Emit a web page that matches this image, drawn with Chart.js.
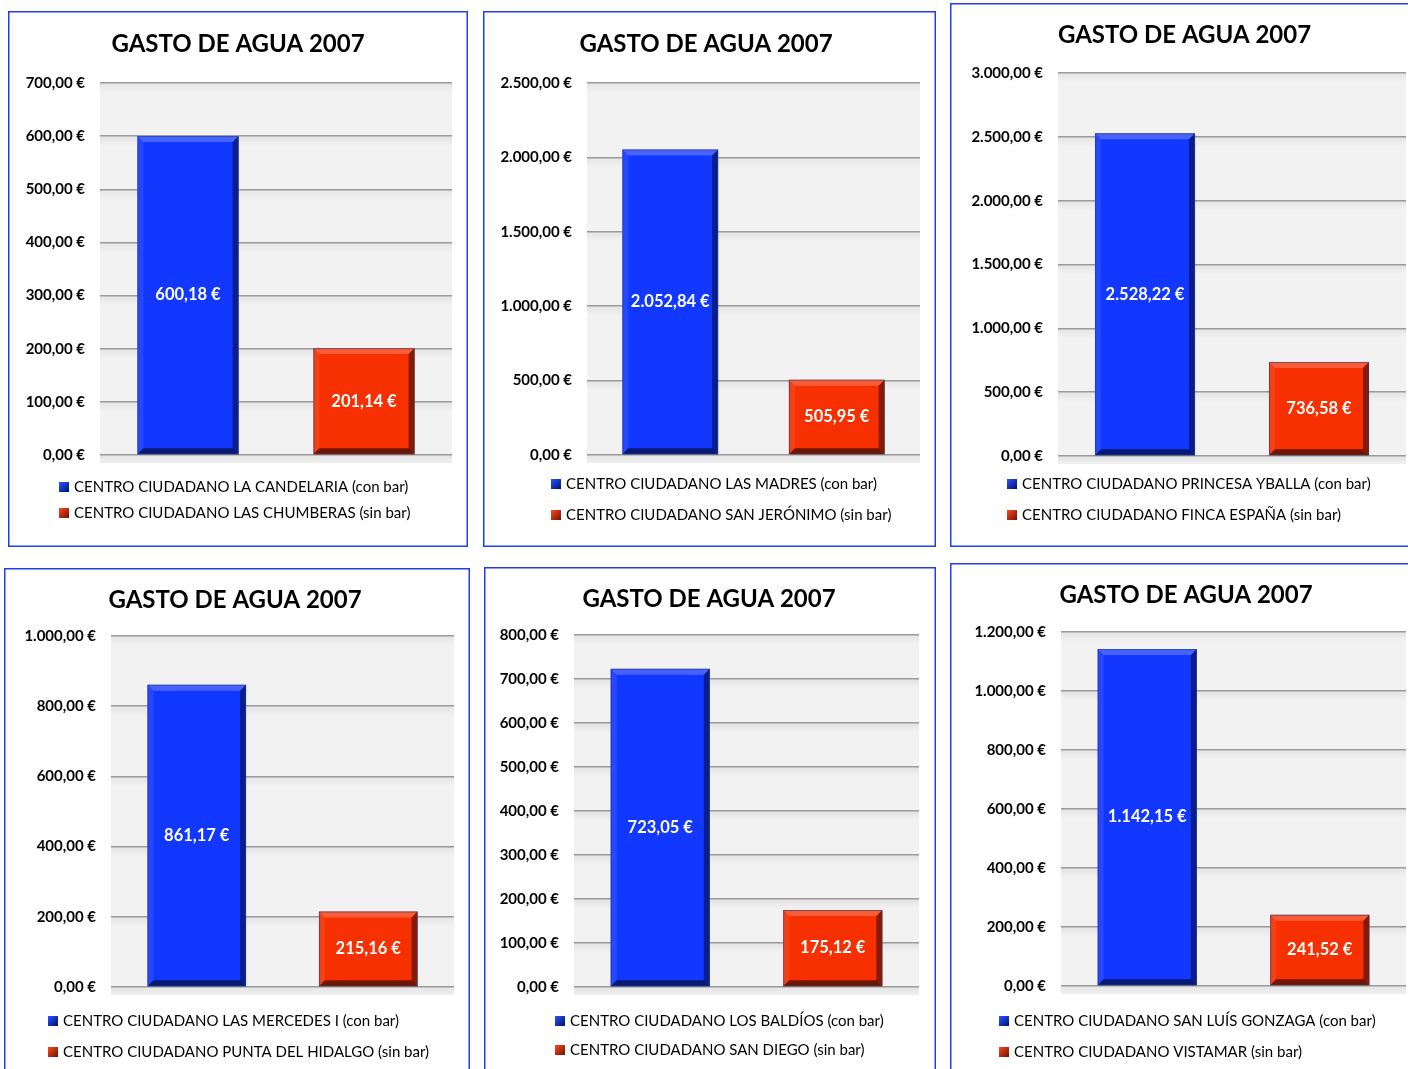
<!DOCTYPE html>
<html>
<head>
<meta charset="utf-8">
<script src="https://cdn.jsdelivr.net/npm/chart.js@4.4.1/dist/chart.umd.min.js"></script>
<style>
  html, body { margin: 0; padding: 0; background: #fff; }
  body { width: 1408px; height: 1069px; position: relative; overflow: hidden; }
  .panel { position: absolute; }
  .panel canvas { display: block; }
</style>
</head>
<body>
<script>
// ---- data ----
var chartTitle = 'GASTO DE AGUA 2007';
var conBarNames = [
  'CENTRO CIUDADANO LA CANDELARIA (con bar)',
  'CENTRO CIUDADANO LAS MADRES (con bar)',
  'CENTRO CIUDADANO PRINCESA YBALLA (con bar)',
  'CENTRO CIUDADANO LAS MERCEDES I (con bar)',
  'CENTRO CIUDADANO LOS BALDÍOS (con bar)',
  'CENTRO CIUDADANO SAN LUÍS GONZAGA (con bar)'
];
var sinBarNames = [
  'CENTRO CIUDADANO LAS CHUMBERAS (sin bar)',
  'CENTRO CIUDADANO SAN JERÓNIMO (sin bar)',
  'CENTRO CIUDADANO FINCA ESPAÑA (sin bar)',
  'CENTRO CIUDADANO PUNTA DEL HIDALGO (sin bar)',
  'CENTRO CIUDADANO SAN DIEGO (sin bar)',
  'CENTRO CIUDADANO VISTAMAR (sin bar)'
];
var conBarValues = [600.18, 2052.84, 2528.22, 861.17, 723.05, 1142.15];
var sinBarValues = [201.14, 505.95, 736.58, 215.16, 175.12, 241.52];
var axisMax = [700, 2500, 3000, 1000, 800, 1200];
var axisStep = [100, 500, 500, 200, 100, 200];

// ---- layout (page pixels) ----
// box: left, top, width, height ; area: left, top, right, bottom ; legend rows y ; legend marker x ; title centre x,y
var layouts = [
  { box: [8, 11, 460, 536],   area: [100, 83, 452, 455],   leg: [487, 513],   mx: 59,  tx: 238,  ty: 44 },
  { box: [483, 11, 453, 536], area: [587, 83, 920, 455],   leg: [484, 515],   mx: 551, tx: 710,  ty: 44 },
  { box: [950, 3, 470, 544],  area: [1058, 73, 1406, 456], leg: [484, 515],   mx: 1007, tx: 1186, ty: 35 },
  { box: [4, 568, 466, 510],  area: [111, 636, 454, 987],  leg: [1021, 1052], mx: 48,  tx: 237,  ty: 600 },
  { box: [484, 567, 452, 510],area: [574, 635, 919, 987],  leg: [1021, 1050], mx: 555, tx: 709,  ty: 599 },
  { box: [950, 563, 470, 510],area: [1061, 632, 1406, 986],leg: [1021, 1052], mx: 999, tx: 1192, ty: 595 }
];

var FONT = 'Lato, "Open Sans", sans-serif';

function euro(v) {
  var parts = v.toFixed(2).split('.');
  var intPart = parts[0].replace(/\B(?=(\d{3})+(?!\d))/g, '.');
  return intPart + ',' + parts[1] + '\u00a0€';
}

var panelFrame = {
  id: 'panelFrame',
  beforeDraw: function (chart) {
    var c = chart.ctx, a = chart.chartArea, ys = chart.scales.y;
    c.save();
    // plot background
    c.fillStyle = '#f2f2f2';
    c.fillRect(a.left, a.top, a.right - a.left, a.bottom - a.top + 8);
    // soft shadow below each gridline
    ys.ticks.forEach(function (t) {
      var py = ys.getPixelForValue(t.value);
      var g = c.createLinearGradient(0, py, 0, py + 10);
      g.addColorStop(0, 'rgba(0,0,0,0.06)');
      g.addColorStop(1, 'rgba(0,0,0,0)');
      c.fillStyle = g;
      c.fillRect(a.left, py, a.right - a.left, 10);
    });
    c.restore();
  },
  afterDraw: function (chart) {
    var c = chart.ctx;
    c.save();
    c.strokeStyle = '#1f3fe8';
    c.lineWidth = 1.5;
    c.strokeRect(0.75, 0.75, chart.width - 1.5, chart.height - 1.5);
    c.restore();
  }
};

var bevelBars = {
  id: 'bevelBars',
  afterDatasetsDraw: function (chart) {
    var c = chart.ctx;
    chart.data.datasets.forEach(function (ds, i) {
      chart.getDatasetMeta(i).data.forEach(function (bar) {
        var l = bar.x - bar.width / 2, r = bar.x + bar.width / 2, t = bar.y, b = bar.base, e = 6;
        c.save();
        // top facet
        c.fillStyle = 'rgba(255,255,255,0.22)';
        c.beginPath(); c.moveTo(l, t); c.lineTo(r, t); c.lineTo(r - e, t + e); c.lineTo(l + e, t + e); c.closePath(); c.fill();
        // left facet
        c.fillStyle = 'rgba(255,255,255,0.08)';
        c.beginPath(); c.moveTo(l, t); c.lineTo(l + e, t + e); c.lineTo(l + e, b - e); c.lineTo(l, b); c.closePath(); c.fill();
        // right facet
        c.fillStyle = 'rgba(0,0,0,0.45)';
        c.beginPath(); c.moveTo(r, t); c.lineTo(r, b); c.lineTo(r - e, b - e); c.lineTo(r - e, t + e); c.closePath(); c.fill();
        // bottom facet
        c.fillStyle = 'rgba(0,0,0,0.55)';
        c.beginPath(); c.moveTo(l, b); c.lineTo(r, b); c.lineTo(r - e, b - e); c.lineTo(l + e, b - e); c.closePath(); c.fill();
        // outline
        c.strokeStyle = 'rgba(40,60,120,0.6)';
        c.lineWidth = 1;
        c.strokeRect(l + 0.5, t + 0.5, r - l - 1, b - t - 1);
        // value label
        c.fillStyle = '#ffffff';
        c.font = 'bold 16.5px ' + FONT;
        c.textAlign = 'center';
        c.textBaseline = 'middle';
        c.fillText(euro(ds.data[0]), bar.x, (t + b) / 2);
        c.restore();
      });
    });
  }
};

var sideLegend = {
  id: 'sideLegend',
  afterDraw: function (chart) {
    var c = chart.ctx, o = chart.options.plugins.sideLegend;
    c.save();
    chart.data.datasets.forEach(function (ds, i) {
      var y = o.rows[i], x = o.x;
      var g = c.createLinearGradient(x, y - 5, x + 10, y + 5);
      g.addColorStop(0, ds.legendLight);
      g.addColorStop(1, ds.legendDark);
      c.fillStyle = g;
      c.fillRect(x, y - 5, 10, 10);
      c.fillStyle = '#000';
      c.font = '15px ' + FONT;
      c.textAlign = 'left';
      c.textBaseline = 'middle';
      c.fillText(ds.label, x + 15, y);
    });
    c.restore();
  }
};

layouts.forEach(function (L, k) {
  var bx = L.box[0], by = L.box[1], bw = L.box[2], bh = L.box[3];
  var div = document.createElement('div');
  div.className = 'panel';
  div.style.left = bx + 'px';
  div.style.top = by + 'px';
  div.style.width = bw + 'px';
  div.style.height = bh + 'px';
  var cv = document.createElement('canvas');
  cv.width = bw;
  cv.height = bh;
  cv.style.width = bw + 'px';
  cv.style.height = bh + 'px';
  div.appendChild(cv);
  document.body.appendChild(div);

  // title is centred between the left/right layout paddings;
  // keep the y axis wide enough for its labels (they get clipped to the axis box)
  var padRight = (bx + bw) - L.area[2];
  var padLeft = 2 * (L.tx - bx) - (bw - padRight);
  padLeft = Math.max(0, Math.min(padLeft, (L.area[0] - bx) - 95));
  if (axisMax[k] < 1000) padLeft = Math.max(0, Math.min(2 * (L.tx - bx) - (bw - padRight), (L.area[0] - bx) - 74));
  var axisW = (L.area[0] - bx) - padLeft;

  var titleLH = 28.8;
  var tPadTop = (L.ty - by) - titleLH / 2;
  var tPadBottom = (L.area[1] - by) - tPadTop - titleLH;

  new Chart(cv.getContext('2d'), {
    type: 'bar',
    data: {
      labels: [''],
      datasets: [
        { label: conBarNames[k], data: [conBarValues[k]], backgroundColor: '#1238ff', legendLight: '#2a55ff', legendDark: '#001070' },
        { label: sinBarNames[k], data: [sinBarValues[k]], backgroundColor: '#f63000', legendLight: '#ff4a20', legendDark: '#701000' }
      ]
    },
    options: {
      responsive: false,
      animation: false,
      devicePixelRatio: 1,
      categoryPercentage: 1,
      barPercentage: 0.575,
      layout: {
        padding: { left: padLeft, right: padRight, top: 0, bottom: (by + bh) - L.area[3] }
      },
      scales: {
        x: { display: false },
        y: {
          min: 0,
          max: axisMax[k],
          afterFit: function (s) { s.width = axisW; },
          ticks: {
            stepSize: axisStep[k],
            padding: 15,
            color: '#000',
            font: { family: FONT, size: 15, weight: 'bold' },
            callback: function (v) { return euro(v); }
          },
          grid: { color: '#9a9a9a', lineWidth: 1.5, drawTicks: false },
          border: { display: false }
        }
      },
      plugins: {
        legend: { display: false },
        tooltip: { enabled: false },
        title: {
          display: true,
          text: chartTitle,
          color: '#000',
          font: { family: FONT, size: 24, weight: 'bold', lineHeight: 1.2 },
          padding: { top: tPadTop, bottom: tPadBottom }
        },
        sideLegend: { x: L.mx - bx, rows: [L.leg[0] - by, L.leg[1] - by] }
      }
    },
    plugins: [panelFrame, bevelBars, sideLegend]
  });
});
</script>
</body>
</html>
